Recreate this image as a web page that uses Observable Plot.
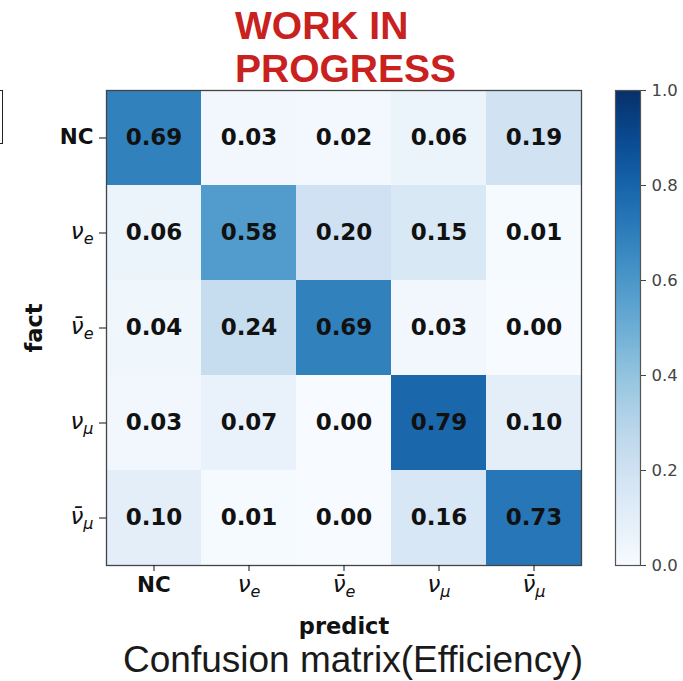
<!DOCTYPE html>
<html>
<head>
<meta charset="utf-8">
<script src="https://cdn.jsdelivr.net/npm/d3@7"></script>
<script src="https://cdn.jsdelivr.net/npm/@observablehq/plot@0.6"></script>
<style>
  body { margin: 0; background: #fff; }
  #wrap { position: relative; width: 683px; height: 681px; overflow: hidden; background: #fff; }
  #wrap svg { position: absolute; left: 0; top: 0; }
  #title { position: absolute; left: 235px; top: 4px; font-family: "Liberation Sans", Arial, sans-serif; font-weight: bold; font-size: 39px; line-height: 43px; color: #c9211e; }
  #caption { position: absolute; left: 0; width: 706px; text-align: center; top: 641px; font-family: "Liberation Sans", Arial, sans-serif; font-size: 37px; line-height: 37px; color: #1a1a1a; white-space: nowrap; }
  #artifact { position: absolute; left: -12px; top: 90px; width: 13px; height: 52px; border: 1.5px solid #222; }
  #wrap svg.cbar text { font-size: 16.5px !important; fill: #444; }
</style>
</head>
<body>
<div id="wrap">
  <div id="artifact"></div>
  <div id="title">WORK IN<br>PROGRESS</div>
  <div id="caption">Confusion matrix(Efficiency)</div>
</div>
<script>
// Category keys (predicted and true classes)
const categories = ["NC", "nu_e", "nubar_e", "nu_mu", "nubar_mu"];
// Rows: true class (fact); columns: predicted class
const rowNC      = [0.69, 0.03, 0.02, 0.06, 0.19];
const rowNuE     = [0.06, 0.58, 0.20, 0.15, 0.01];
const rowNuBarE  = [0.04, 0.24, 0.69, 0.03, 0.00];
const rowNuMu    = [0.03, 0.07, 0.00, 0.79, 0.10];
const rowNuBarMu = [0.10, 0.01, 0.00, 0.16, 0.73];
const colorTicks = [0.0, 0.2, 0.4, 0.6, 0.8, 1.0];

const rows = [rowNC, rowNuE, rowNuBarE, rowNuMu, rowNuBarMu];
const data = [];
rows.forEach((r, i) => r.forEach((v, j) => data.push({fact: categories[i], predict: categories[j], value: v})));

const main = Plot.plot({
  width: 683, height: 681,
  marginLeft: 106, marginRight: 102, marginTop: 90, marginBottom: 116,
  x: {domain: categories, padding: 0, axis: null},
  y: {domain: categories, padding: 0, axis: null},
  color: {type: "linear", scheme: "blues", domain: [0, 1]},
  style: {fontFamily: "DejaVu Sans", background: "transparent", color: "#111"},
  marks: [
    Plot.cell(data, {x: "predict", y: "fact", fill: "value"}),
    Plot.text(data, {x: "predict", y: "fact", text: d => d.value.toFixed(2), fontWeight: "bold", fontSize: 23, fill: "#111"}),
    Plot.frame({stroke: "#444", strokeWidth: 1.3}),
    Plot.axisX({tickSize: 6, tickPadding: 8, fontSize: 18, label: "predict", labelAnchor: "center", labelOffset: 68}),
    Plot.axisY({tickSize: 7, tickPadding: 6, fontSize: 18, label: "fact", labelAnchor: "center", labelOffset: 80})
  ]
});

const bar = Plot.plot({
  width: 683, height: 681,
  marginLeft: 615, marginRight: 43, marginTop: 90, marginBottom: 116,
  x: {domain: [0, 1], axis: null},
  y: {domain: [0, 1], axis: null},
  color: {type: "linear", scheme: "blues", domain: [0, 1]},
  style: {fontFamily: "DejaVu Sans", fontSize: "16.5px", background: "transparent", color: "#444"},
  marks: [
    Plot.raster({x1: 0, x2: 1, y1: 0, y2: 1, width: 1, height: 256, fill: (x, y) => y}),
    Plot.frame({stroke: "#555", strokeWidth: 1.2}),
    Plot.axisY({anchor: "right", ticks: colorTicks, tickFormat: d3.format(".1f"), tickSize: 5, tickPadding: 6, fontSize: 16.5, label: null})
  ]
});
bar.classList.add("cbar");

const wrap = document.getElementById("wrap");
wrap.appendChild(main);
wrap.appendChild(bar);

// Rich tick labels: NC bold; neutrinos as italic nu with subscript and optional bar
function setLabel(textEl, key) {
  while (textEl.firstChild) textEl.removeChild(textEl.firstChild);
  const ns = "http://www.w3.org/2000/svg";
  if (key === "NC") {
    const t = document.createElementNS(ns, "tspan");
    t.setAttribute("font-weight", "bold");
    t.style.fontSize = "21.5px";
    t.textContent = "NC";
    textEl.appendChild(t);
    return;
  }
  const isBar = key.startsWith("nubar");
  const sub = key.endsWith("_e") ? "e" : "\u03bc";
  const t1 = document.createElementNS(ns, "tspan");
  t1.setAttribute("font-style", "italic");
  t1.style.fontSize = "23px";
  t1.textContent = isBar ? "\u03bd\u0304" : "\u03bd";
  const t2 = document.createElementNS(ns, "tspan");
  t2.setAttribute("font-style", "italic");
  t2.style.fontSize = "16px";
  t2.setAttribute("dy", "5");
  t2.textContent = sub;
  textEl.appendChild(t1);
  textEl.appendChild(t2);
}
main.querySelectorAll('[aria-label="x-axis tick label"] text, [aria-label="y-axis tick label"] text').forEach(el => {
  const key = el.__data__ !== undefined ? el.__data__ : el.textContent;
  setLabel(el, typeof key === "string" ? key : el.textContent);
});
main.querySelectorAll('[aria-label="x-axis label"] text, [aria-label="y-axis label"] text').forEach(el => {
  el.style.fontWeight = "bold";
  el.style.fontSize = "22.5px";
  el.style.fill = "#111";
});
bar.querySelectorAll("text").forEach(el => {
  el.style.fontSize = "16.5px";
  el.style.fill = "#444";
});
</script>
</body>
</html>
